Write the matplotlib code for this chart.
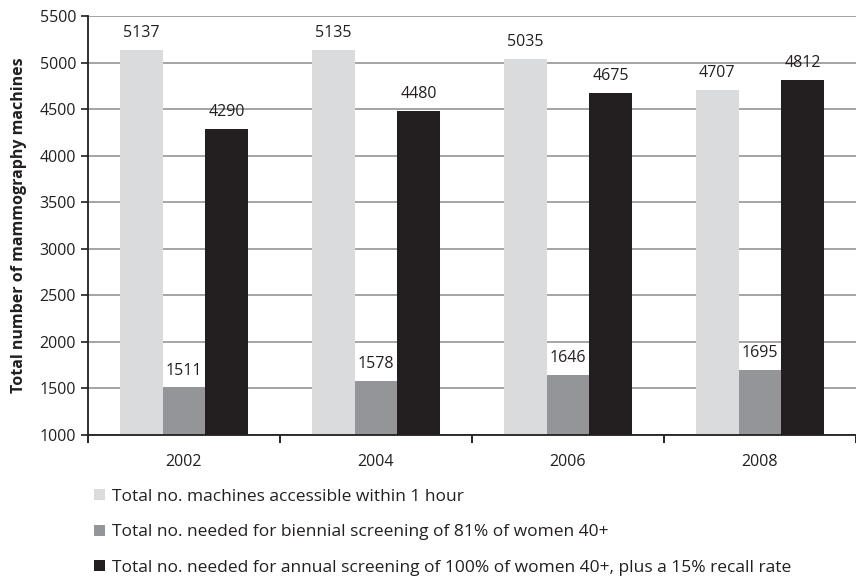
import numpy as np
import matplotlib.pyplot as plt

plt.rcParams['font.family'] = ['Open Sans', 'DejaVu Sans']

years = ["2002", "2004", "2006", "2008"]
accessible = [5137, 5135, 5035, 4707]
biennial = [1511, 1578, 1646, 1695]
annual = [4290, 4480, 4675, 4812]

series = [
    ("Total no. machines accessible within 1 hour", accessible, "#dadbdd"),
    ("Total no. needed for biennial screening of 81% of women 40+", biennial, "#939598"),
    ("Total no. needed for annual screening of 100% of women 40+, plus a 15% recall rate", annual, "#231f20"),
]

fig = plt.figure(figsize=(8.56, 5.82), dpi=100)
ax = fig.add_axes([0.1028, 0.2526, 0.897, 0.7199])

x = np.arange(len(years))
w = 0.222
for i, (name, vals, col) in enumerate(series):
    pos = x + (i - 1) * w
    ax.bar(pos, np.array(vals) - 1000, w, bottom=1000, color=col, label=name, zorder=2)
    for p, v in zip(pos, vals):
        ax.text(p, v + 95, str(v), ha="center", va="bottom", fontsize=11.5, color="#231f20")

ax.set_ylim(1000, 5500)
ax.set_yticks(np.arange(1000, 5501, 500))
ax.set_xlim(-0.5, len(years) - 0.5)
ax.set_xticks(x)
ax.set_xticklabels(years)
ax.set_xticks(np.arange(-0.5, len(years)), minor=True)
ax.tick_params(axis="x", which="major", length=0, pad=14, labelsize=11.5, colors="#231f20")
ax.tick_params(axis="x", which="minor", length=6, direction="out", width=1.2)
ax.tick_params(axis="y", length=5, width=1.2, labelsize=11.5, colors="#231f20")
ax.yaxis.grid(True, color="#8c8c8c", linewidth=1.1, zorder=0)
ax.set_axisbelow(True)
for s in ("top", "right"):
    ax.spines[s].set_visible(False)
for s in ("left", "bottom"):
    ax.spines[s].set_linewidth(1.3)
    ax.spines[s].set_color("#231f20")
ax.set_ylabel("Total number of mammography machines", fontsize=11.5, fontweight="bold",
              color="#231f20", labelpad=9)

leg = fig.legend(loc="upper left", bbox_to_anchor=(0.102, 0.172), frameon=False,
                 fontsize=12.5, handlelength=0.6, handleheight=0.6, handletextpad=0.4,
                 labelspacing=1.12, borderaxespad=0)
for t in leg.get_texts():
    t.set_color("#231f20")

fig.savefig("out.png", dpi=100)
